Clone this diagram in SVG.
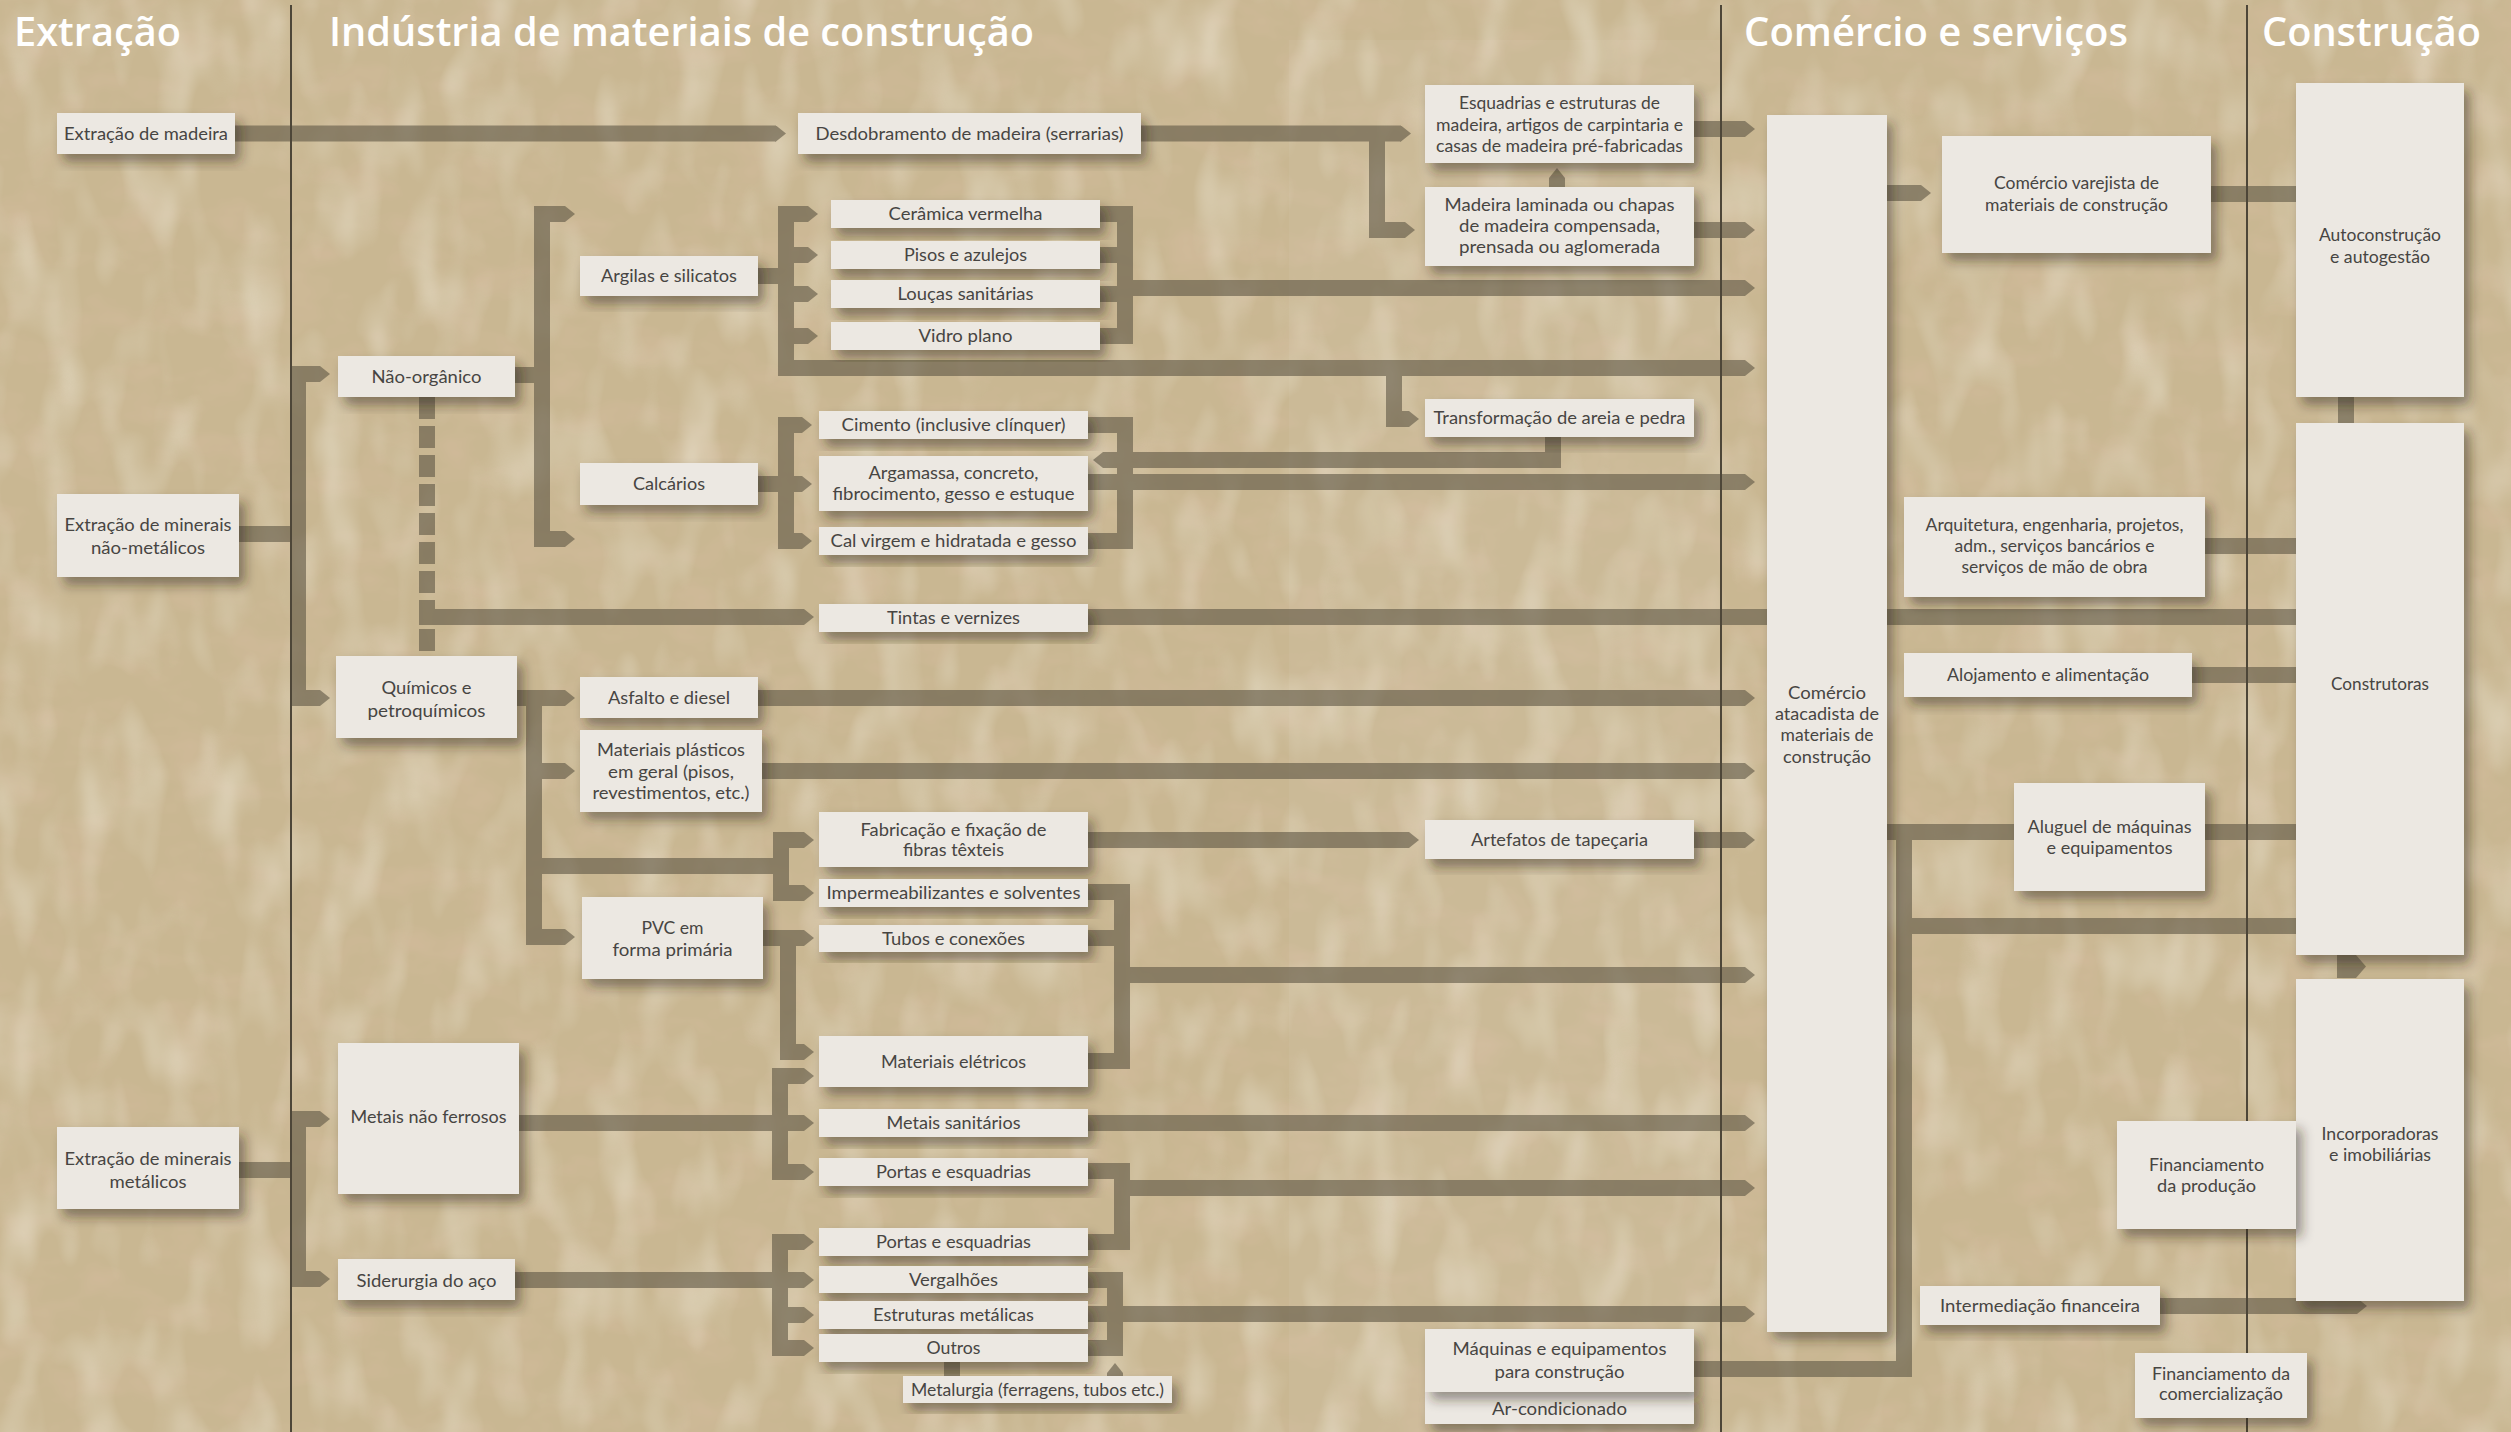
<svg xmlns="http://www.w3.org/2000/svg" width="2511" height="1432" viewBox="0 0 2511 1432">
<defs>
<style>
.bx{fill:#ece8e2;filter:url(#sh)}
.t{font-family:Lato,"Open Sans","Liberation Sans",sans-serif;font-size:17.5px;fill:#474542;text-anchor:middle}
.hd{font-family:"Open Sans","Liberation Sans",sans-serif;font-weight:600;font-size:39px;fill:#ffffff}
.c{fill:none;stroke:#5e5644;stroke-width:16;stroke-linejoin:miter}
.a{marker-end:url(#ar)}
.b{marker-start:url(#ar);marker-end:url(#ar)}
.dv{stroke:#4d4638;stroke-width:2}
</style>
<marker id="ar" viewBox="-1 0 11 16" refX="0" refY="8" markerWidth="11" markerHeight="16" markerUnits="userSpaceOnUse" orient="auto-start-reverse">
<path d="M-1,0 L0,0 L10,8 L0,16 L-1,16 Z" fill="#5e5644"/>
</marker>
<filter id="sh" x="-20%" y="-20%" width="150%" height="160%">
<feDropShadow dx="6" dy="8" stdDeviation="6" flood-color="#2e2616" flood-opacity="0.45"/>
</filter>
<filter id="noise1" filterUnits="userSpaceOnUse" x="0" y="0" width="2511" height="1432">
<feTurbulence type="fractalNoise" baseFrequency="0.018 0.03" numOctaves="3" seed="3"/>
<feColorMatrix type="matrix" values="0 0 0 0 0.66  0 0 0 0 0.50  0 0 0 0 0.34  1.3 0 0 0 -0.58"/>
</filter>
<filter id="noise2" filterUnits="userSpaceOnUse" x="0" y="0" width="2511" height="1432">
<feTurbulence type="fractalNoise" baseFrequency="0.025 0.012" numOctaves="2" seed="11"/>
<feColorMatrix type="matrix" values="0 0 0 0 0.88  0 0 0 0 0.84  0 0 0 0 0.72  0 1.0 0 0 -0.46"/>
</filter>
</defs>

<g id="background">
<rect x="0" y="0" width="2511" height="1432" fill="#c9b792"/>
<rect x="0" y="0" width="2511" height="1432" filter="url(#noise1)"/>
<rect x="0" y="0" width="2511" height="1432" filter="url(#noise2)"/>
<rect x="1289" y="40" width="432" height="1392" fill="#ffffff" opacity="0.05"/>
</g>

<g id="headers">
<text class="hd" x="14" y="46" textLength="167" lengthAdjust="spacingAndGlyphs">Extração</text>
<text class="hd" x="329" y="46" textLength="705" lengthAdjust="spacingAndGlyphs">Indústria de materiais de construção</text>
<text class="hd" x="1744" y="46" textLength="384" lengthAdjust="spacingAndGlyphs">Comércio e serviços</text>
<text class="hd" x="2262" y="46" textLength="219" lengthAdjust="spacingAndGlyphs">Construção</text>
</g>

<g id="connectors" opacity="0.6">
<path class="c a" d="M235,133.5 H776"/>
<path class="c a" d="M1141,133.5 H1401"/>
<path class="c a" d="M1377,133.5 V230 H1405"/>
<path class="c a" d="M1694,129 H1745"/>
<path class="c a" d="M1694,230 H1745"/>
<path class="c a" d="M1557,187 V178"/>
<path class="c" d="M239,534 H298"/>
<path class="c b" d="M320,374 H298 V698 H320"/>
<path class="c" d="M239,1170 H298"/>
<path class="c b" d="M320,1119 H298 V1279 H320"/>
<path class="c" d="M515,375 H542"/>
<path class="c b" d="M565,214 H542 V539 H565"/>
<path class="c" d="M758,276 H786"/>
<path class="c b" d="M808,214 H786 V368 H1745"/>
<path class="c a" d="M786,255 H808"/>
<path class="c a" d="M786,294 H808"/>
<path class="c a" d="M786,336 H808"/>
<path class="c a" d="M1394,368 V419 H1409"/>
<path class="c" d="M1100,214 H1125 V336 H1100"/>
<path class="c" d="M1100,255 H1125"/>
<path class="c" d="M1100,294 H1125"/>
<path class="c a" d="M1125,288 H1745"/>
<path class="c" d="M758,484 H786"/>
<path class="c b" d="M802,425 H786 V541 H802"/>
<path class="c a" d="M786,484 H802"/>
<path class="c" d="M1088,425 H1125 V541 H1088"/>
<path class="c a" d="M1088,482 H1745"/>
<path class="c a" d="M1553,437 V460 H1103"/>
<path class="c" d="M427,397 V656" stroke-dasharray="22 7"/>
<path class="c a" d="M419,617 H804"/>
<path class="c" d="M1088,617 H2296"/>
<path class="c a" d="M517,698 H565"/>
<path class="c a" d="M534,690 V937 H565"/>
<path class="c a" d="M534,771 H565"/>
<path class="c" d="M534,866 H781"/>
<path class="c b" d="M804,840 H781 V893 H804"/>
<path class="c a" d="M758,698 H1745"/>
<path class="c a" d="M762,771 H1745"/>
<path class="c a" d="M1088,840 H1409"/>
<path class="c a" d="M1694,840 H1745"/>
<path class="c" d="M1088,892 H1122 V1061 H1088"/>
<path class="c" d="M1088,938 H1122"/>
<path class="c a" d="M1122,975 H1745"/>
<path class="c a" d="M763,938 H804"/>
<path class="c a" d="M788,938 V1052 H804"/>
<path class="c" d="M519,1123 H780"/>
<path class="c b" d="M804,1076 H780 V1172 H804"/>
<path class="c a" d="M780,1123 H804"/>
<path class="c a" d="M1088,1123 H1745"/>
<path class="c" d="M1088,1171 H1122 V1242 H1088"/>
<path class="c a" d="M1122,1188 H1745"/>
<path class="c" d="M515,1280 H780"/>
<path class="c b" d="M804,1242 H780 V1348 H804"/>
<path class="c a" d="M780,1280 H804"/>
<path class="c a" d="M780,1315 H804"/>
<path class="c" d="M1088,1280 H1115 V1348 H1088"/>
<path class="c a" d="M1088,1314 H1745"/>
<path class="c" d="M952,1360 V1378"/>
<path class="c a" d="M1115,1378 V1373"/>
<path class="c a" d="M1887,193 H1921"/>
<path class="c" d="M2211,194 H2296"/>
<path class="c" d="M2205,546 H2296"/>
<path class="c" d="M2192,675 H2296"/>
<path class="c" d="M1887,832 H2296"/>
<path class="c" d="M1694,1369 H1904 V824"/>
<path class="c" d="M1904,926 H2296"/>
<path class="c" d="M2346,395 V425"/>
<path d="M2337,955 H2356 L2366,966.5 L2356,978 H2337 Z" fill="#5e5644"/>
<path class="c a" d="M2160,1306 H2357"/>
</g>

<g id="dividers">
<line class="dv" x1="291" y1="5" x2="291" y2="1432"/>
<line class="dv" x1="1721" y1="5" x2="1721" y2="1432"/>
<line class="dv" x1="2247" y1="5" x2="2247" y2="1432"/>
</g>

<g id="n-extracao-madeira"><rect class="bx" x="57" y="113" width="178" height="41"/><text class="t" x="146" y="139.5" textLength="164" lengthAdjust="spacingAndGlyphs">Extração de madeira</text></g>
<g id="n-desdobramento"><rect class="bx" x="798" y="113" width="343" height="41"/><text class="t" x="969.5" y="139.5" textLength="308" lengthAdjust="spacingAndGlyphs">Desdobramento de madeira (serrarias)</text></g>
<g id="n-esquadrias"><rect class="bx" x="1425" y="85" width="269" height="78"/>
<text class="t" x="1559.5" y="109" textLength="201" lengthAdjust="spacingAndGlyphs">Esquadrias e estruturas de</text>
<text class="t" x="1559.5" y="131" textLength="247" lengthAdjust="spacingAndGlyphs">madeira, artigos de carpintaria e</text>
<text class="t" x="1559.5" y="152" textLength="247" lengthAdjust="spacingAndGlyphs">casas de madeira pré-fabricadas</text></g>
<g id="n-madeira-laminada"><rect class="bx" x="1425" y="187" width="269" height="79"/>
<text class="t" x="1559.5" y="211" textLength="230" lengthAdjust="spacingAndGlyphs">Madeira laminada ou chapas</text>
<text class="t" x="1559.5" y="232" textLength="201" lengthAdjust="spacingAndGlyphs">de madeira compensada,</text>
<text class="t" x="1559.5" y="253" textLength="201" lengthAdjust="spacingAndGlyphs">prensada ou aglomerada</text></g>
<g id="n-transformacao"><rect class="bx" x="1425" y="399" width="269" height="38"/><text class="t" x="1559.5" y="424" textLength="252" lengthAdjust="spacingAndGlyphs">Transformação de areia e pedra</text></g>
<g id="n-atacadista"><rect class="bx" x="1767" y="115" width="120" height="1217"/>
<text class="t" x="1827" y="698.5" textLength="78" lengthAdjust="spacingAndGlyphs">Comércio</text>
<text class="t" x="1827" y="720" textLength="104" lengthAdjust="spacingAndGlyphs">atacadista de</text>
<text class="t" x="1827" y="741" textLength="93" lengthAdjust="spacingAndGlyphs">materiais de</text>
<text class="t" x="1827" y="762.5" textLength="88" lengthAdjust="spacingAndGlyphs">construção</text></g>
<g id="n-varejista"><rect class="bx" x="1942" y="136" width="269" height="117"/>
<text class="t" x="2076.5" y="189" textLength="165" lengthAdjust="spacingAndGlyphs">Comércio varejista de</text>
<text class="t" x="2076.5" y="211" textLength="183" lengthAdjust="spacingAndGlyphs">materiais de construção</text></g>
<g id="n-autoconstrucao"><rect class="bx" x="2296" y="83" width="168" height="314"/>
<text class="t" x="2380" y="241" textLength="122" lengthAdjust="spacingAndGlyphs">Autoconstrução</text>
<text class="t" x="2380" y="263" textLength="100" lengthAdjust="spacingAndGlyphs">e autogestão</text></g>
<g id="n-construtoras"><rect class="bx" x="2296" y="423" width="168" height="532"/>
<text class="t" x="2380" y="690" textLength="98" lengthAdjust="spacingAndGlyphs">Construtoras</text></g>
<g id="n-incorporadoras"><rect class="bx" x="2296" y="979" width="168" height="322"/>
<text class="t" x="2380" y="1140" textLength="117" lengthAdjust="spacingAndGlyphs">Incorporadoras</text>
<text class="t" x="2380" y="1161" textLength="102" lengthAdjust="spacingAndGlyphs">e imobiliárias</text></g>
<g id="n-arquitetura"><rect class="bx" x="1904" y="497" width="301" height="100"/>
<text class="t" x="2054.5" y="531" textLength="258" lengthAdjust="spacingAndGlyphs">Arquitetura, engenharia, projetos,</text>
<text class="t" x="2054.5" y="552" textLength="200" lengthAdjust="spacingAndGlyphs">adm., serviços bancários e</text>
<text class="t" x="2054.5" y="573" textLength="186" lengthAdjust="spacingAndGlyphs">serviços de mão de obra</text></g>
<g id="n-alojamento"><rect class="bx" x="1904" y="653" width="288" height="44"/>
<text class="t" x="2048" y="681" textLength="202" lengthAdjust="spacingAndGlyphs">Alojamento e alimentação</text></g>
<g id="n-aluguel"><rect class="bx" x="2014" y="783" width="191" height="108"/>
<text class="t" x="2109.5" y="833" textLength="164" lengthAdjust="spacingAndGlyphs">Aluguel de máquinas</text>
<text class="t" x="2109.5" y="854" textLength="126" lengthAdjust="spacingAndGlyphs">e equipamentos</text></g>
<g id="n-fin-producao"><rect class="bx" x="2117" y="1121" width="179" height="108"/>
<text class="t" x="2206.5" y="1171" textLength="115" lengthAdjust="spacingAndGlyphs">Financiamento</text>
<text class="t" x="2206.5" y="1192" textLength="99" lengthAdjust="spacingAndGlyphs">da produção</text></g>
<g id="n-intermediacao"><rect class="bx" x="1920" y="1286" width="240" height="39"/>
<text class="t" x="2040" y="1312" textLength="200" lengthAdjust="spacingAndGlyphs">Intermediação financeira</text></g>
<g id="n-fin-comercializacao"><rect class="bx" x="2135" y="1353" width="172" height="65"/>
<text class="t" x="2221" y="1379.5" textLength="138" lengthAdjust="spacingAndGlyphs">Financiamento da</text>
<text class="t" x="2221" y="1399.5" textLength="124" lengthAdjust="spacingAndGlyphs">comercialização</text></g>
<g id="n-ar-condicionado"><rect class="bx" x="1425" y="1392" width="269" height="32"/>
<text class="t" x="1559.5" y="1414.5" textLength="135" lengthAdjust="spacingAndGlyphs">Ar-condicionado</text></g>
<g id="n-maquinas"><rect class="bx" x="1425" y="1329" width="269" height="63"/>
<text class="t" x="1559.5" y="1355" textLength="214" lengthAdjust="spacingAndGlyphs">Máquinas e equipamentos</text>
<text class="t" x="1559.5" y="1378" textLength="130" lengthAdjust="spacingAndGlyphs">para construção</text></g>
<g id="n-artefatos"><rect class="bx" x="1425" y="820" width="269" height="39"/>
<text class="t" x="1559.5" y="846" textLength="177" lengthAdjust="spacingAndGlyphs">Artefatos de tapeçaria</text></g>
<g id="n-extr-nao-metalicos"><rect class="bx" x="57" y="494" width="182" height="83"/>
<text class="t" x="148" y="531" textLength="167" lengthAdjust="spacingAndGlyphs">Extração de minerais</text>
<text class="t" x="148" y="554" textLength="114" lengthAdjust="spacingAndGlyphs">não-metálicos</text></g>
<g id="n-extr-metalicos"><rect class="bx" x="57" y="1127" width="182" height="82"/>
<text class="t" x="148" y="1165" textLength="167" lengthAdjust="spacingAndGlyphs">Extração de minerais</text>
<text class="t" x="148" y="1188" textLength="77" lengthAdjust="spacingAndGlyphs">metálicos</text></g>
<g id="n-nao-organico"><rect class="bx" x="338" y="356" width="177" height="41"/>
<text class="t" x="426.5" y="383" textLength="110" lengthAdjust="spacingAndGlyphs">Não-orgânico</text></g>
<g id="n-quimicos"><rect class="bx" x="336" y="656" width="181" height="82"/>
<text class="t" x="426.5" y="694" textLength="90" lengthAdjust="spacingAndGlyphs">Químicos e</text>
<text class="t" x="426.5" y="717" textLength="118" lengthAdjust="spacingAndGlyphs">petroquímicos</text></g>
<g id="n-metais-nao-ferrosos"><rect class="bx" x="338" y="1043" width="181" height="151"/>
<text class="t" x="428.5" y="1123" textLength="156" lengthAdjust="spacingAndGlyphs">Metais não ferrosos</text></g>
<g id="n-siderurgia"><rect class="bx" x="338" y="1259" width="177" height="41"/>
<text class="t" x="426.5" y="1286.5" textLength="140" lengthAdjust="spacingAndGlyphs">Siderurgia do aço</text></g>
<g id="n-argilas"><rect class="bx" x="580" y="256" width="178" height="40"/>
<text class="t" x="669" y="282" textLength="136" lengthAdjust="spacingAndGlyphs">Argilas e silicatos</text></g>
<g id="n-calcarios"><rect class="bx" x="580" y="463" width="178" height="42"/>
<text class="t" x="669" y="490" textLength="72" lengthAdjust="spacingAndGlyphs">Calcários</text></g>
<g id="n-asfalto"><rect class="bx" x="580" y="677" width="178" height="41"/>
<text class="t" x="669" y="704" textLength="122" lengthAdjust="spacingAndGlyphs">Asfalto e diesel</text></g>
<g id="n-plasticos"><rect class="bx" x="580" y="730" width="182" height="82"/>
<text class="t" x="671" y="756" textLength="148" lengthAdjust="spacingAndGlyphs">Materiais plásticos</text>
<text class="t" x="671" y="777.5" textLength="126" lengthAdjust="spacingAndGlyphs">em geral (pisos,</text>
<text class="t" x="671" y="799" textLength="157" lengthAdjust="spacingAndGlyphs">revestimentos, etc.)</text></g>
<g id="n-pvc"><rect class="bx" x="582" y="897" width="181" height="82"/>
<text class="t" x="672.5" y="934" textLength="62" lengthAdjust="spacingAndGlyphs">PVC em</text>
<text class="t" x="672.5" y="956" textLength="120" lengthAdjust="spacingAndGlyphs">forma primária</text></g>
<g id="n-ceramica"><rect class="bx" x="831" y="200" width="269" height="28"/>
<text class="t" x="965.5" y="220" textLength="154" lengthAdjust="spacingAndGlyphs">Cerâmica vermelha</text></g>
<g id="n-pisos"><rect class="bx" x="831" y="241" width="269" height="28"/>
<text class="t" x="965.5" y="261" textLength="123" lengthAdjust="spacingAndGlyphs">Pisos e azulejos</text></g>
<g id="n-loucas"><rect class="bx" x="831" y="280" width="269" height="28"/>
<text class="t" x="965.5" y="300" textLength="136" lengthAdjust="spacingAndGlyphs">Louças sanitárias</text></g>
<g id="n-vidro"><rect class="bx" x="831" y="322" width="269" height="28"/>
<text class="t" x="965.5" y="342" textLength="94" lengthAdjust="spacingAndGlyphs">Vidro plano</text></g>
<g id="n-cimento"><rect class="bx" x="819" y="411" width="269" height="28"/>
<text class="t" x="953.5" y="431" textLength="224" lengthAdjust="spacingAndGlyphs">Cimento (inclusive clínquer)</text></g>
<g id="n-argamassa"><rect class="bx" x="819" y="456" width="269" height="55"/>
<text class="t" x="953.5" y="479" textLength="170" lengthAdjust="spacingAndGlyphs">Argamassa, concreto,</text>
<text class="t" x="953.5" y="500" textLength="242" lengthAdjust="spacingAndGlyphs">fibrocimento, gesso e estuque</text></g>
<g id="n-cal"><rect class="bx" x="819" y="527" width="269" height="28"/>
<text class="t" x="953.5" y="547" textLength="246" lengthAdjust="spacingAndGlyphs">Cal virgem e hidratada e gesso</text></g>
<g id="n-tintas"><rect class="bx" x="819" y="604" width="269" height="28"/>
<text class="t" x="953.5" y="624" textLength="133" lengthAdjust="spacingAndGlyphs">Tintas e vernizes</text></g>
<g id="n-fabricacao"><rect class="bx" x="819" y="812" width="269" height="55"/>
<text class="t" x="953.5" y="836" textLength="186" lengthAdjust="spacingAndGlyphs">Fabricação e fixação de</text>
<text class="t" x="953.5" y="856" textLength="101" lengthAdjust="spacingAndGlyphs">fibras têxteis</text></g>
<g id="n-impermeabilizantes"><rect class="bx" x="819" y="879" width="269" height="28"/>
<text class="t" x="953.5" y="899" textLength="254" lengthAdjust="spacingAndGlyphs">Impermeabilizantes e solventes</text></g>
<g id="n-tubos"><rect class="bx" x="819" y="925" width="269" height="27"/>
<text class="t" x="953.5" y="944.5" textLength="143" lengthAdjust="spacingAndGlyphs">Tubos e conexões</text></g>
<g id="n-eletricos"><rect class="bx" x="819" y="1036" width="269" height="51"/>
<text class="t" x="953.5" y="1068" textLength="145" lengthAdjust="spacingAndGlyphs">Materiais elétricos</text></g>
<g id="n-metais-sanitarios"><rect class="bx" x="819" y="1109" width="269" height="28"/>
<text class="t" x="953.5" y="1129" textLength="134" lengthAdjust="spacingAndGlyphs">Metais sanitários</text></g>
<g id="n-portas1"><rect class="bx" x="819" y="1158" width="269" height="28"/>
<text class="t" x="953.5" y="1178" textLength="155" lengthAdjust="spacingAndGlyphs">Portas e esquadrias</text></g>
<g id="n-portas2"><rect class="bx" x="819" y="1228" width="269" height="28"/>
<text class="t" x="953.5" y="1248" textLength="155" lengthAdjust="spacingAndGlyphs">Portas e esquadrias</text></g>
<g id="n-vergalhoes"><rect class="bx" x="819" y="1266" width="269" height="27"/>
<text class="t" x="953.5" y="1286" textLength="89" lengthAdjust="spacingAndGlyphs">Vergalhões</text></g>
<g id="n-estruturas"><rect class="bx" x="819" y="1301" width="269" height="28"/>
<text class="t" x="953.5" y="1321" textLength="161" lengthAdjust="spacingAndGlyphs">Estruturas metálicas</text></g>
<g id="n-outros"><rect class="bx" x="819" y="1334" width="269" height="28"/>
<text class="t" x="953.5" y="1354" textLength="54" lengthAdjust="spacingAndGlyphs">Outros</text></g>
<g id="n-metalurgia"><rect class="bx" x="903" y="1376" width="269" height="27"/>
<text class="t" x="1037.5" y="1396" textLength="253" lengthAdjust="spacingAndGlyphs">Metalurgia (ferragens, tubos etc.)</text></g>
</svg>
